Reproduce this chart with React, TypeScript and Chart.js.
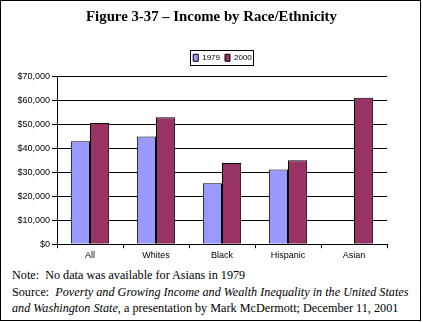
import React, { useEffect, useRef } from "react";
import { Chart, registerables } from "chart.js";

Chart.register(...registerables);

const categories = ["All", "Whites", "Black", "Hispanic", "Asian"];
const values1979: (number | null)[] = [43000, 45000, 25500, 31200, null];
const values2000: number[] = [50700, 53100, 33900, 35100, 61200];
const seriesLabels = ["1979", "2000"];
const yTicks = [0, 10000, 20000, 30000, 40000, 50000, 60000, 70000];
const titleText = "Figure 3-37 \u2013 Income by Race/Ethnicity";

const shiftBlocks = {
  id: "shiftBlocks",
  afterLayout(chart: any) {
    const t = chart.titleBlock;
    if (t) {
      t.right += 36;
      t.width += 36;
    }
    const lg = chart.legend;
    if (lg) {
      lg.left += 29;
      lg.right += 29;
      lg.top -= 5;
      lg.bottom -= 5;
    }
  },
};

const legendBorder = {
  id: "legendBorder",
  afterDraw(chart: any) {
    const lg = chart.legend;
    if (!lg || !lg.legendHitBoxes || !lg.legendHitBoxes.length) return;
    const boxes = lg.legendHitBoxes;
    let l = Infinity, t = Infinity, r = -Infinity, b = -Infinity;
    boxes.forEach((h: any) => {
      l = Math.min(l, h.left);
      t = Math.min(t, h.top);
      r = Math.max(r, h.left + h.width);
      b = Math.max(b, h.top + h.height);
    });
    const ctx = chart.ctx;
    ctx.save();
    ctx.strokeStyle = "#000";
    ctx.lineWidth = 1;
    ctx.strokeRect(Math.round(l - 3) + 0.5, Math.round(t - 4) + 0.5, Math.round(r - l + 4), Math.round(b - t + 7));
    ctx.restore();
  },
};

export default function App() {
  const ref = useRef<HTMLCanvasElement | null>(null);
  useEffect(() => {
    document.body.style.margin = "0";
    if (!ref.current) return;
    const chart = new Chart(ref.current, {
      type: "bar",
      data: {
        labels: categories,
        datasets: [
          {
            label: seriesLabels[0],
            data: values1979,
            backgroundColor: "#9999FF",
            borderColor: "#000",
            borderWidth: 1,
            categoryPercentage: 0.58,
            barPercentage: 1,
          },
          {
            label: seriesLabels[1],
            data: values2000,
            backgroundColor: "#993366",
            borderColor: "#000",
            borderWidth: 1,
            categoryPercentage: 0.58,
            barPercentage: 1,
          },
        ],
      },
      options: {
        animation: false,
        responsive: false,
        devicePixelRatio: 1,
        layout: { padding: { left: 0, right: 36, top: 0, bottom: 0 } },
        plugins: {
          title: {
            display: true,
            text: titleText,
            color: "#000",
            font: { family: "'Liberation Serif', 'Times New Roman', serif", size: 14.8, weight: "bold" },
            padding: { top: 8, bottom: 28 },
          },
          legend: {
            display: true,
            position: "top",
            labels: {
              color: "#000",
              boxWidth: 5,
              boxHeight: 7,
              padding: 5,
              font: { family: "'Liberation Sans', Arial, sans-serif", size: 8 },
            },
          },
          tooltip: { enabled: false },
        },
        scales: {
          x: {
            offset: true,
            grid: {
              display: true,
              offset: true,
              drawOnChartArea: false,
              drawTicks: true,
              tickLength: 4,
              color: "#000",
            },
            border: { display: true, color: "#000", width: 1 },
            ticks: {
              color: "#000",
              padding: 2,
              font: { family: "'Liberation Sans', Arial, sans-serif", size: 9 },
            },
          },
          y: {
            min: 0,
            max: 70000,
            afterBuildTicks: (scale: any) => {
              scale.ticks = yTicks.map((v) => ({ value: v }));
            },
            afterFit: (scale: any) => {
              scale.width = 57;
            },
            grid: { color: "#000", lineWidth: 1, tickLength: 5, drawTicks: true },
            border: { display: true, color: "#000", width: 1 },
            ticks: {
              color: "#000",
              padding: 2,
              font: { family: "'Liberation Sans', Arial, sans-serif", size: 9 },
              callback: (v: any) => "$" + Number(v).toLocaleString("en-US"),
            },
          },
        },
      },
      plugins: [shiftBlocks, legendBorder],
    });
    return () => chart.destroy();
  }, []);

  const noteFont = "'Liberation Serif', 'Times New Roman', serif";
  return (
    <div
      style={{
        position: "absolute",
        left: 0,
        top: 0,
        width: 421,
        height: 321,
        boxSizing: "border-box",
        border: "1px solid #000",
        background: "#fff",
        overflow: "hidden",
      }}
    >
      <canvas
        ref={ref}
        width={423}
        height={263}
        style={{ position: "absolute", left: -1, top: -1, width: 423, height: 263 }}
      />
      <div
        style={{
          position: "absolute",
          left: 11,
          top: 266,
          fontFamily: noteFont,
          fontSize: 12.2,
          lineHeight: "16.5px",
          color: "#000",
          whiteSpace: "pre",
        }}
      >
        <div>{"Note:  No data was available for Asians in 1979"}</div>
        <div>
          {"Source:  "}
          <i>Poverty and Growing Income and Wealth Inequality in the United States</i>
        </div>
        <div>
          <i>and Washington State</i>
          {", a presentation by Mark McDermott; December 11, 2001"}
        </div>
      </div>
    </div>
  );
}
